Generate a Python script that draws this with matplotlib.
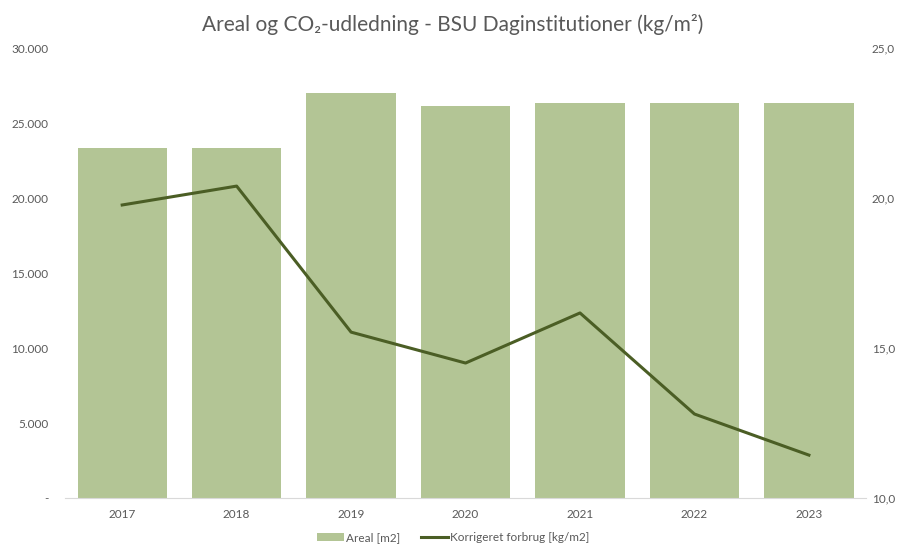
import matplotlib
matplotlib.use('agg')
import matplotlib.pyplot as plt
from matplotlib.ticker import FuncFormatter

years = ['2017', '2018', '2019', '2020', '2021', '2022', '2023']
areal = [23350, 23350, 27000, 26150, 26350, 26350, 26350]
forbrug = [19.77, 20.4, 15.53, 14.5, 16.17, 12.8, 11.43]

bar_color = '#b3c595'
line_color = '#4b5e25'
text_color = '#595959'

plt.rcParams['font.family'] = ['Lato', 'DejaVu Sans']

fig = plt.figure(figsize=(9.06, 5.47), dpi=100)
ax = fig.add_axes([0.0717, 0.0896, 0.8843, 0.8224])
ax2 = ax.twinx()

x = list(range(len(years)))
bars = ax.bar(x, areal, width=0.78, color=bar_color, label='Areal [m2]', zorder=2)
line, = ax2.plot(x, forbrug, color=line_color, linewidth=2.2, label='Korrigeret forbrug [kg/m2]', zorder=3)

ax.set_xlim(-0.5, len(years) - 0.5)
ax.set_ylim(0, 30000)
ax.set_yticks(range(0, 30001, 5000))
ax.yaxis.set_major_formatter(FuncFormatter(lambda v, p: '-' if v == 0 else f'{int(v):,}'.replace(',', '.')))
ax2.set_ylim(10, 25)
ax2.set_yticks([10, 15, 20, 25])
ax2.yaxis.set_major_formatter(FuncFormatter(lambda v, p: f'{v:.1f}'.replace('.', ',')))

ax.set_xticks(x)
ax.set_xticklabels(years)

for a in (ax, ax2):
    for s in a.spines.values():
        s.set_visible(False)
    a.tick_params(length=0, colors=text_color, labelsize=8.5)
ax.spines['bottom'].set_visible(True)
ax.spines['bottom'].set_color('#d9d9d9')
ax.tick_params(axis='y', pad=12)
ax2.tick_params(axis='y', pad=4)
ax.tick_params(axis='x', pad=8)

fig.suptitle('Areal og CO₂-udledning - BSU Daginstitutioner (kg/m²)',
             y=0.975, fontsize=15, color=text_color)

fig.legend(handles=[bars, line], loc='lower center', bbox_to_anchor=(0.5, -0.013),
           ncol=2, frameon=False, fontsize=8.5, labelcolor=text_color,
           handlelength=2.3, handletextpad=0.15, columnspacing=1.8)

fig.savefig('out.png', dpi=100)
